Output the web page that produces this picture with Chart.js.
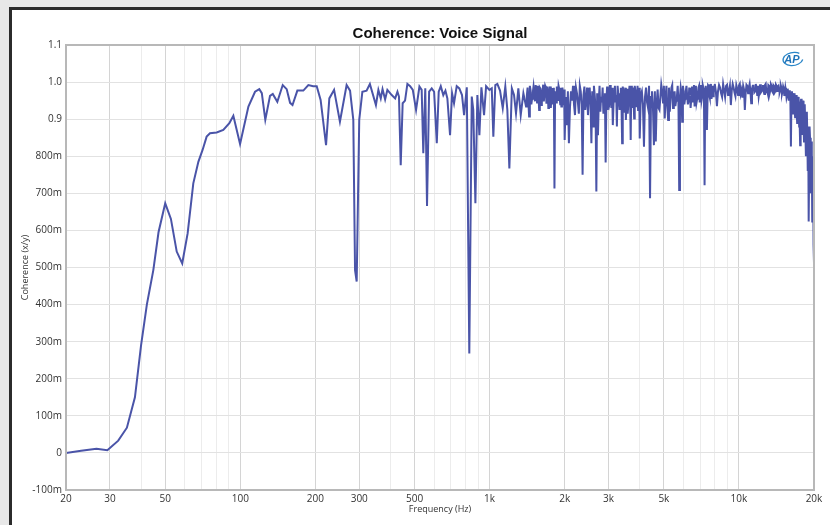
<!DOCTYPE html>
<html>
<head>
<meta charset="utf-8">
<script src="https://cdn.jsdelivr.net/npm/chart.js@4.4.0/dist/chart.umd.min.js"></script>
<style>
  html, body { margin: 0; padding: 0; background: #e8e8e8; }
  #frame {
    position: absolute; left: 9px; top: 7px; width: 821px; height: 518px;
    border-left: 3px solid #2b2b2b; border-top: 3px solid #2b2b2b;
    background: #ffffff; box-sizing: border-box;
  }
  #wrap { position: absolute; left: 0; top: 0; width: 818px; height: 515px; }
</style>
</head>
<body>
<div id="frame"><div id="wrap"><canvas id="coherenceChart"></canvas></div></div>
<script>
// Fréquences (Hz) et cohérence, par tranche
const freqLow = [
  20, 23, 26.5, 29.3, 32.4, 35.1, 37.8, 40, 42.2, 44.8, 47, 50, 52.7, 55.6, 58.5, 61.5, 64.8, 67.9, 70.6, 73.3,
  75.6, 80.4, 85.5, 90.4, 93.8, 99.8, 107.8, 114.6, 119.2, 122, 126, 131.6, 135, 140.8, 148, 153.5, 158.4, 162, 169.4, 179,
  187.5, 196, 202.6, 210, 220.8, 227.6, 237.8, 251, 267, 275.6, 284, 288.6, 293, 300, 308.8, 321, 331
];
const cohLow = [
  0.000, 0.006, 0.011, 0.007, 0.033, 0.068, 0.150, 0.290, 0.400, 0.493, 0.595, 0.673, 0.631, 0.543, 0.511, 0.592, 0.727, 0.785, 0.817, 0.853,
  0.862, 0.864, 0.871, 0.889, 0.909, 0.833, 0.934, 0.974, 0.981, 0.970, 0.898, 0.963, 0.968, 0.947, 0.992, 0.981, 0.944, 0.938, 0.977, 0.977,
  0.992, 0.989, 0.989, 0.952, 0.830, 0.956, 0.979, 0.893, 0.992, 0.977, 0.898, 0.493, 0.462, 0.898, 0.974, 0.977, 0.995
];
const freqMid = [
  350, 358, 366, 372, 381, 389, 405, 418, 427, 433, 440, 448, 458, 468, 480, 492, 507, 523, 534, 542, 552, 561,
  572, 586, 599, 614, 625, 637, 652, 665, 677, 694, 707, 720, 738, 756, 775, 790, 810, 829, 848, 860, 877, 893,
  910, 927, 950, 968, 998, 1020, 1035, 1054, 1074, 1101, 1129, 1156, 1178, 1200, 1228, 1253, 1276, 1304, 1333, 1366
];
const cohMid = [
  0.938, 0.979, 0.956, 0.981, 0.953, 0.979, 0.965, 0.956, 0.974, 0.961, 0.776, 0.943, 0.950, 0.995, 0.989, 0.979, 0.925, 0.988, 0.979, 0.808, 0.983, 0.666,
  0.974, 0.983, 0.974, 0.835, 0.974, 0.989, 0.965, 0.977, 0.956, 0.857, 0.970, 0.943, 0.989, 0.983, 0.965, 0.911, 0.986, 0.268, 0.961, 0.925, 0.673, 0.965,
  0.857, 0.986, 0.911, 0.989, 0.979, 0.983, 0.853, 0.992, 0.995, 0.977, 0.930, 0.988, 0.925, 0.767, 0.983, 0.965, 0.916, 0.983, 0.911, 0.970
];
const freqA = [
  1400, 1410, 1420, 1430, 1440, 1450, 1460, 1470, 1480, 1490, 1500, 1510, 1520, 1530, 1540, 1550, 1560, 1570, 1580, 1590,
  1600, 1610, 1620, 1630, 1640, 1650, 1660, 1670, 1680, 1690, 1700, 1710, 1720, 1730, 1740, 1750, 1760, 1770, 1780, 1790,
  1800, 1810, 1820, 1830, 1840, 1850, 1860, 1870, 1880, 1890, 1900, 1910, 1920, 1930, 1940, 1950, 1960, 1970, 1980, 1990
];
const cohA = [
  0.934, 0.962, 0.985, 0.950, 0.907, 0.990, 0.978, 0.940, 0.955, 0.972, 0.988, 0.965, 0.948, 0.992, 0.975, 0.945, 0.990, 0.968, 0.925, 0.985,
  0.982, 0.938, 0.960, 0.975, 0.993, 0.948, 0.970, 0.990, 0.985, 0.942, 0.955, 0.988, 0.930, 0.970, 0.978, 0.988, 0.930, 0.965, 0.984, 0.940,
  0.950, 0.985, 0.713, 0.960, 0.975, 0.945, 0.988, 0.952, 0.960, 0.990, 0.983, 0.955, 0.940, 0.985, 0.934, 0.962, 0.985, 0.940, 0.958, 0.980
];
const freqB = [
  2000, 2020, 2040, 2060, 2080, 2100, 2120, 2140, 2160, 2180, 2200, 2220, 2240, 2260, 2280, 2300, 2320, 2340, 2360, 2380,
  2400, 2420, 2440, 2460, 2480, 2500, 2520, 2540, 2560, 2580, 2600, 2620, 2640, 2660, 2680, 2700, 2720, 2740, 2760, 2780,
  2800, 2820, 2840, 2860, 2880, 2900, 2920, 2940, 2960, 2980, 3000, 3020, 3040, 3060, 3080, 3100, 3120, 3140, 3160, 3180,
  3200, 3220, 3240, 3260, 3280, 3300, 3320, 3340, 3360, 3380, 3400, 3420, 3440, 3460, 3480, 3500, 3520, 3540, 3560, 3580,
  3600, 3620, 3640, 3660, 3680, 3700, 3720, 3740, 3760, 3780, 3800, 3820, 3840, 3860, 3880, 3900, 3920, 3940, 3960, 3980
];
const cohB = [
  0.844, 0.960, 0.884, 0.975, 0.835, 0.930, 0.975, 0.950, 0.990, 0.940, 0.911, 0.985, 0.970, 0.945, 0.915, 0.990, 0.975, 0.940, 0.750, 0.965,
  0.988, 0.925, 0.950, 0.985, 0.911, 0.960, 0.985, 0.940, 0.835, 0.975, 0.880, 0.990, 0.965, 0.930, 0.705, 0.970, 0.857, 0.945, 0.990, 0.920,
  0.960, 0.945, 0.985, 0.915, 0.940, 0.970, 0.783, 0.950, 0.988, 0.925, 0.955, 0.945, 0.992, 0.960, 0.930, 0.985, 0.884, 0.940, 0.975, 0.990,
  0.945, 0.965, 0.880, 0.990, 0.970, 0.950, 0.925, 0.960, 0.985, 0.940, 0.835, 0.988, 0.975, 0.920, 0.950, 0.985, 0.898, 0.950, 0.982, 0.915,
  0.940, 0.970, 0.990, 0.955, 0.844, 0.990, 0.965, 0.930, 0.985, 0.950, 0.902, 0.990, 0.978, 0.965, 0.935, 0.960, 0.990, 0.925, 0.960, 0.985
];
const freqC = [
  4000, 4040, 4080, 4120, 4160, 4200, 4240, 4280, 4320, 4360, 4400, 4440, 4480, 4520, 4560, 4600, 4640, 4680, 4720, 4760,
  4800, 4840, 4880, 4920, 4960, 5000, 5040, 5080, 5120, 5160, 5200, 5240, 5280, 5320, 5360, 5400, 5440, 5480, 5520, 5560,
  5600, 5640, 5680, 5720, 5760, 5800, 5840, 5880, 5920, 5960, 6000, 6040, 6080, 6120, 6160, 6200, 6240, 6280, 6320, 6360,
  6400, 6440, 6480, 6520, 6560, 6600, 6640, 6680, 6720, 6760, 6800, 6840, 6880, 6920, 6960, 7000, 7040, 7080, 7120, 7160,
  7200, 7240, 7280, 7320, 7360, 7400, 7440, 7480, 7520, 7560, 7600, 7640, 7680, 7720, 7760, 7800, 7840, 7880, 7920, 7960
];
const cohC = [
  0.848, 0.965, 0.975, 0.940, 0.826, 0.960, 0.985, 0.945, 0.930, 0.990, 0.687, 0.960, 0.975, 0.930, 0.830, 0.975, 0.840, 0.945, 0.980, 0.930,
  0.925, 0.960, 0.993, 0.975, 0.945, 0.990, 0.902, 0.960, 0.990, 0.935, 0.898, 0.985, 0.920, 0.955, 0.985, 0.992, 0.930, 0.960, 0.975, 0.935,
  0.950, 0.962, 0.990, 0.945, 0.709, 0.960, 0.985, 0.970, 0.893, 0.990, 0.975, 0.940, 0.955, 0.975, 0.990, 0.962, 0.940, 0.950, 0.985, 0.965,
  0.930, 0.955, 0.988, 0.945, 0.960, 0.992, 0.934, 0.970, 0.990, 0.945, 0.955, 0.965, 0.985, 0.990, 0.945, 0.968, 0.992, 0.950, 0.960, 0.992,
  0.985, 0.955, 0.722, 0.965, 0.990, 0.975, 0.871, 0.950, 0.992, 0.990, 0.965, 0.958, 0.995, 0.982, 0.955, 0.968, 0.990, 0.962, 0.970, 0.988
];
const freqD = [
  8000, 8080, 8160, 8240, 8320, 8400, 8480, 8560, 8640, 8720, 8800, 8880, 8960, 9040, 9120, 9200, 9280, 9360, 9440, 9520,
  9600, 9680, 9760, 9840, 9920, 10000, 10080, 10160, 10240, 10320, 10400, 10480, 10560, 10640, 10720, 10800, 10880, 10960, 11040, 11120,
  11200, 11280, 11360, 11440, 11520, 11600, 11680, 11760, 11840, 11920, 12000, 12080, 12160, 12240, 12320, 12400, 12480, 12560, 12640, 12720,
  12800, 12880, 12960, 13040, 13120, 13200, 13280, 13360, 13440, 13520, 13600, 13680, 13760, 13840, 13920, 14000, 14080, 14160, 14240, 14320,
  14400, 14480, 14560, 14640, 14720, 14800, 14880, 14960, 15040, 15120, 15200, 15280, 15360, 15440, 15520, 15600, 15680, 15760, 15840, 15920
];
const cohD = [
  0.995, 0.975, 0.935, 0.975, 0.992, 0.985, 0.970, 0.960, 0.995, 0.978, 0.960, 0.990, 0.993, 0.965, 0.975, 0.990, 0.938, 0.978, 0.995, 0.985,
  0.972, 0.962, 0.992, 0.982, 0.965, 0.990, 0.995, 0.968, 0.978, 0.958, 0.990, 0.980, 0.925, 0.970, 0.993, 0.990, 0.970, 0.985, 0.995, 0.975,
  0.943, 0.982, 0.990, 0.990, 0.972, 0.975, 0.995, 0.985, 0.965, 0.990, 0.961, 0.975, 0.994, 0.972, 0.975, 0.985, 0.992, 0.975, 0.968, 0.992,
  0.995, 0.975, 0.978, 0.970, 0.992, 0.990, 0.970, 0.978, 0.994, 0.990, 0.975, 0.972, 0.992, 0.990, 0.972, 0.975, 0.993, 0.990, 0.976, 0.988,
  0.990, 0.982, 0.972, 0.978, 0.991, 0.985, 0.968, 0.975, 0.988, 0.982, 0.965, 0.970, 0.985, 0.975, 0.958, 0.965, 0.982, 0.972, 0.950, 0.975
];
const freqE = [
  16000, 16080, 16160, 16240, 16320, 16400, 16480, 16560, 16640, 16720, 16800, 16880, 16960, 17040, 17120, 17200, 17280, 17360, 17440, 17520,
  17600, 17680, 17760, 17840, 17920, 18000, 18080, 18160, 18240, 18320, 18400, 18480, 18560, 18640, 18720, 18800, 18880, 18960, 19040, 19120,
  19200, 19280, 19360, 19440, 19520, 19600, 19680, 19760, 19840, 19920, 20000
];
const cohE = [
  0.978, 0.950, 0.826, 0.960, 0.975, 0.925, 0.915, 0.955, 0.970, 0.930, 0.905, 0.950, 0.965, 0.925, 0.890, 0.945, 0.960, 0.940, 0.880, 0.890,
  0.830, 0.945, 0.955, 0.900, 0.860, 0.935, 0.950, 0.880, 0.840, 0.925, 0.940, 0.860, 0.800, 0.900, 0.920, 0.860, 0.760, 0.880, 0.624, 0.760,
  0.880, 0.850, 0.720, 0.700, 0.840, 0.800, 0.624, 0.760, 0.800, 0.560, 0.512
];

const freqHz = [...freqLow, ...freqMid, ...freqA, ...freqB, ...freqC, ...freqD, ...freqE];
const coherence = [...cohLow, ...cohMid, ...cohA, ...cohB, ...cohC, ...cohD, ...cohE];

// Graduations de l'axe X (toutes les lignes de grille) et celles qui portent un libellé
const xGridTicks = [20, 30, 40, 50, 60, 70, 80, 90, 100, 200, 300, 400, 500, 600, 700, 800, 900,
  1000, 2000, 3000, 4000, 5000, 6000, 7000, 8000, 9000, 10000, 20000];
const xLabels = { 20: "20", 30: "30", 50: "50", 100: "100", 200: "200", 300: "300", 500: "500",
  1000: "1k", 2000: "2k", 3000: "3k", 5000: "5k", 10000: "10k", 20000: "20k" };
const yTickLabels = ["-100m", "0", "100m", "200m", "300m", "400m", "500m", "600m", "700m", "800m", "0.9", "1.0", "1.1"];

const points = freqHz.map((f, i) => ({ x: f, y: coherence[i] }));

// Cadre gris autour de la zone de tracé + logo AP
const framePlugin = {
  id: "framePlugin",
  afterDraw(chart) {
    const { ctx, chartArea: a } = chart;
    ctx.save();
    ctx.strokeStyle = "#b8b8b8";
    ctx.lineWidth = 2;
    ctx.strokeRect(a.left, a.top, a.right - a.left, a.bottom - a.top);
    // logo
    const cx = a.right - 22, cy = a.top + 14;
    ctx.strokeStyle = "#2a86c8";
    ctx.lineWidth = 1.3;
    ctx.beginPath();
    ctx.ellipse(cx + 1, cy, 10, 6.5, -0.15, 0.3, Math.PI * 1.75);
    ctx.stroke();
    ctx.fillStyle = "#1f73b8";
    ctx.font = "italic bold 11px 'Liberation Sans', Arial, sans-serif";
    ctx.textAlign = "center";
    ctx.textBaseline = "middle";
    ctx.fillText("AP", cx, cy + 0.5);
    ctx.restore();
  }
};

new Chart(document.getElementById("coherenceChart"), {
  type: "line",
  data: {
    datasets: [{
      label: "Coherence",
      data: points,
      borderColor: "#4a54a8",
      borderWidth: 2,
      pointRadius: 0,
      tension: 0,
      fill: false
    }]
  },
  options: {
    responsive: true,
    maintainAspectRatio: false,
    animation: false,
    layout: { padding: { left: 8, right: 16, top: 0, bottom: 10 } },
    plugins: {
      legend: { display: false },
      tooltip: { enabled: false },
      title: {
        display: true,
        text: "Coherence: Voice Signal",
        fullSize: false,
        color: "#111",
        font: { family: "'Liberation Sans', Arial, sans-serif", size: 15, weight: "bold" },
        padding: { top: 15, bottom: 2 }
      }
    },
    scales: {
      x: {
        type: "logarithmic",
        min: 20,
        max: 20000,
        afterBuildTicks: (scale) => { scale.ticks = xGridTicks.map(v => ({ value: v })); },
        afterFit: (scale) => { scale.height = 25; },
        grid: {
          drawTicks: false,
          color: (c) => (xLabels[c.tick && c.tick.value] ? "#d4d4d4" : "#ececec"),
          lineWidth: 1
        },
        border: { display: false },
        ticks: {
          autoSkip: false,
          maxRotation: 0,
          padding: 3,
          color: "#333",
          font: { family: "'Open Sans', 'DejaVu Sans', sans-serif", size: 10 },
          callback: (value) => xLabels[value] || ""
        },
        title: {
          display: true,
          text: "Frequency (Hz)",
          color: "#333",
          font: { family: "'Open Sans', 'DejaVu Sans', sans-serif", size: 9 },
          padding: { top: 0, bottom: 0 }
        }
      },
      y: {
        min: -0.1,
        max: 1.1,
        afterFit: (scale) => { scale.width = 46; },
        grid: { drawTicks: false, color: "#e2e2e2", lineWidth: 1 },
        border: { display: false },
        ticks: {
          stepSize: 0.1,
          padding: 4,
          color: "#333",
          font: { family: "'Open Sans', 'DejaVu Sans', sans-serif", size: 10 },
          callback: (value) => yTickLabels[Math.round((value + 0.1) * 10)]
        },
        title: {
          display: true,
          text: "Coherence (x/y)",
          color: "#333",
          font: { family: "'Open Sans', 'DejaVu Sans', sans-serif", size: 9 },
          padding: { top: 0, bottom: 0 }
        }
      }
    }
  },
  plugins: [framePlugin]
});
</script>
</body>
</html>
